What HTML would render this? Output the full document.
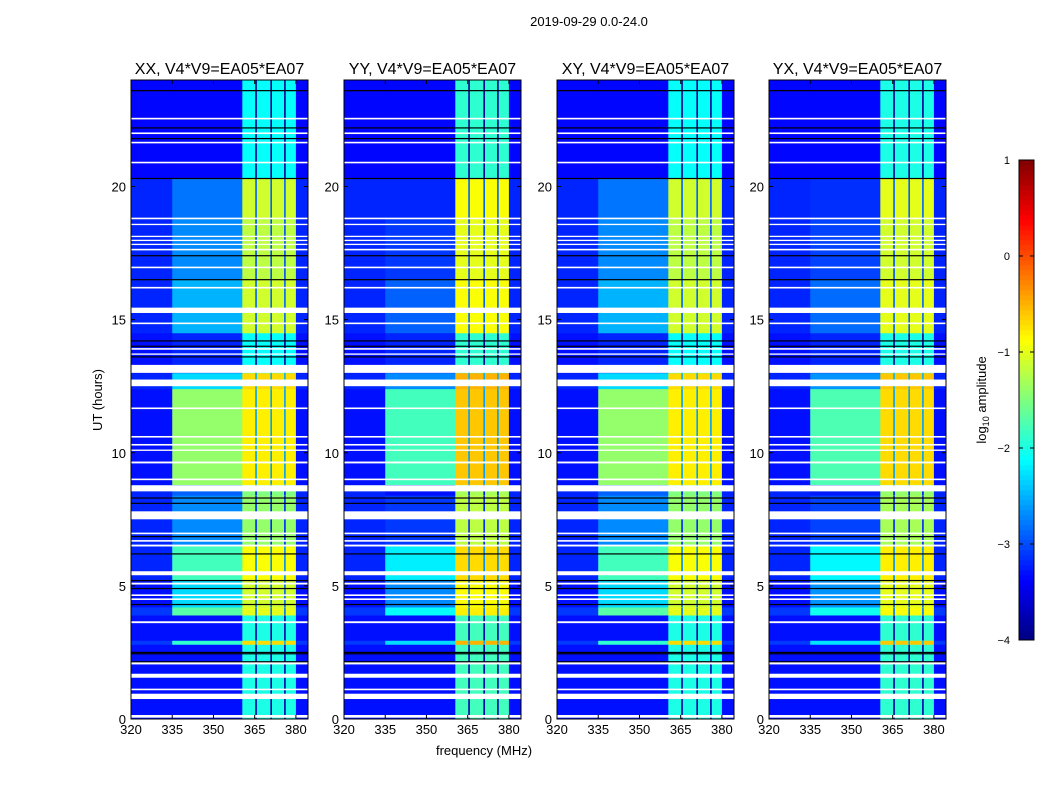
<!DOCTYPE html>
<html><head><meta charset="utf-8"><style>
body{margin:0;background:#fff;font-family:"Liberation Sans",sans-serif}
svg text{font-family:"Liberation Sans",sans-serif}
</style></head><body>
<svg id="fig" width="1050" height="800" xmlns="http://www.w3.org/2000/svg">
<text x="589" y="26" text-anchor="middle" font-size="13">2019-09-29 0.0-24.0</text>
<text transform="translate(102,400) rotate(-90)" text-anchor="middle" font-size="13">UT (hours)</text>
<text x="484" y="755" text-anchor="middle" font-size="13">frequency (MHz)</text>
<g id="panels"></g>
<g id="cbar"></g>
<text transform="translate(986,400) rotate(-90)" text-anchor="middle" font-size="13">log<tspan font-size="9" dy="3">10</tspan><tspan dy="-3"> amplitude</tspan></text>
</svg>
<script>
const panelTitles=["XX, V4*V9=EA05*EA07","YY, V4*V9=EA05*EA07","XY, V4*V9=EA05*EA07","YX, V4*V9=EA05*EA07"];
const panelLefts=[131,344,557,769];
const xTicks=[320,335,350,365,380];
const yTicks=[0,5,10,15,20];
// segments: [t0, t1, background, broadband(335-360), band(360-380)] log10 amplitude
const segT0=[0,2.8,2.95,3.9,4.2,5.2,6.5,8.4,8.8,12.4,13,14.5,16.5,18.8,20.3];
const segT1=[2.8,2.95,3.9,4.2,5.2,6.5,8.4,8.8,12.4,13.0,14.5,16.5,18.8,20.3,24];
const segBg=[-3.3,-3.1,-3.3,-3.1,-3.3,-3.2,-3.2,-3.2,-3.3,-3.2,-3.3,-3.2,-3.2,-3.2,-3.35];
const segBroad=[-3.3,-1.9,-3.3,-1.7,-2.3,-1.8,-2.7,-2.9,-1.4,-2.3,-3.2,-2.5,-2.7,-2.8,-3.35];
const segBand=[-2.0,-0.7,-2.0,-1.0,-1.1,-0.9,-1.4,-1.5,-0.8,-0.7,-2.1,-1.1,-1.2,-1.1,-2.1];
const broadShift=[0,-0.4,0,-0.35];
const bandShift=[0,0.2,0,0.1];
const whiteGaps=[[0.05,0.15],[0.75,0.95],[1.08,1.14],[1.55,1.7],[2.05,2.15],[3.6,3.67],[4.47,4.53],[4.62,4.68],[5.05,5.12],[5.4,5.55],[6.48,6.55],[6.66,6.72],[6.94,7.0],[7.5,7.8],[8.55,8.78],[8.97,9.03],[9.6,9.67],[10.07,10.12],[10.27,10.33],[10.57,10.63],[11.64,11.7],[12.5,12.75],[13.0,13.3],[13.68,13.73],[13.87,13.93],[14.83,14.89],[15.25,15.45],[16.17,16.23],[16.93,16.99],[17.6,17.66],[17.8,17.85],[17.95,18.0],[18.1,18.15],[18.55,18.6],[18.77,18.83],[20.87,20.93],[21.62,21.68],[21.97,22.03],[22.52,22.58]];
const blackLines=[2.15,2.45,2.5,4.3,4.9,5.2,6.2,6.85,8.1,8.3,13.6,14.0,14.2,16.5,17.4,20.3,21.8,22.2,23.6];
const darkFreqs=[365.5,371,376];

const NS="http://www.w3.org/2000/svg";
function jet(v){let x=(v+4)/5;x=Math.max(0,Math.min(1,x));
 const c=t=>Math.round(255*Math.max(0,Math.min(1,1.5-Math.abs(t))));
 return `rgb(${c(4*x-3)},${c(4*x-2)},${c(4*x-1)})`;}
function el(tag,attrs,parent){const e=document.createElementNS(NS,tag);for(const k in attrs)e.setAttribute(k,attrs[k]);parent.appendChild(e);return e;}
const plotTop=80,plotBot=719,plotW=177;
const fx=(L,f)=>L+(f-320)*(plotW/64.4);
const ty=t=>plotBot-(t/24)*(plotBot-plotTop);
const panelRoot=document.getElementById('panels');
panelTitles.forEach((title,p)=>{
 const L=panelLefts[p];
 const g=el('g',{},panelRoot);
 
 
 for(let i=0;i<segT0.length;i++){
  const y1=ty(segT1[i]),y0=ty(segT0[i]);
  const bv=segBroad[i]>-3.0?segBroad[i]+broadShift[p]:segBroad[i];
  const regions=[[320,335,segBg[i]],[335,360.5,bv],[360.5,380,segBand[i]+bandShift[p]],[380,384.4,segBg[i]]];
  regions.forEach(r=>{
   const c=el('rect',{x:fx(L,r[0]),y:y1,width:fx(L,r[1])-fx(L,r[0])+0.3,height:y0-y1+0.3,fill:jet(r[2])},g);
   
   
  });
  darkFreqs.forEach(f=>{
   const d=el('rect',{x:fx(L,f)-0.8,y:y1,width:1.6,height:y0-y1,fill:jet(segBand[i]-1.8)},g);
   
   
  });
 }
 whiteGaps.forEach(w=>{const r=el('rect',{x:L,y:ty(w[1]),width:plotW,height:Math.max(1.2,ty(w[0])-ty(w[1])),fill:'#fff'},g);
  
  });
 blackLines.forEach(b=>{const r=el('rect',{x:L,y:ty(b)-0.6,width:plotW,height:1.2,fill:'#000'},g);
  
  });
 const fr=el('rect',{x:L,y:plotTop,width:plotW,height:plotBot-plotTop,fill:'none',stroke:'#000','stroke-width':1},g);
 
 
 const tt=el('text',{x:L+plotW/2,y:plotTop-6,'text-anchor':'middle','font-size':16},g);tt.textContent=title;
 
 
 xTicks.forEach(v=>{const x=fx(L,v);
  el('line',{x1:x,x2:x,y1:plotBot,y2:plotBot-4,stroke:'#000'},g);el('line',{x1:x,x2:x,y1:plotTop,y2:plotTop+4,stroke:'#000'},g);
  const t=el('text',{x:x,y:plotBot+15,'text-anchor':'middle','font-size':13},g);t.textContent=v;
  
  });
 yTicks.forEach(v=>{const y=ty(v);
  el('line',{x1:L,x2:L+4,y1:y,y2:y,stroke:'#000'},g);el('line',{x1:L+plotW,x2:L+plotW-4,y1:y,y2:y,stroke:'#000'},g);
  const t=el('text',{x:L-5,y:y+5,'text-anchor':'end','font-size':13},g);t.textContent=v;
  
  });
});
// colorbar
const cbTicks=[1,0,-1,-2,-3,-4];
const cb=document.getElementById('cbar');
const cy=v=>640-(v+4)/5*480;
for(let i=0;i<96;i++){const v=-4+i*5/96;
 el('rect',{x:1019,y:cy(v+5/96),width:15,height:5.3,fill:jet(v+2.5/96)},cb);}
el('rect',{x:1019,y:160,width:15,height:480,fill:'none',stroke:'#000'},cb);
cbTicks.forEach(v=>{const y=cy(v);
 el('line',{x1:1019,x2:1023,y1:y,y2:y,stroke:'#000'},cb);el('line',{x1:1034,x2:1030,y1:y,y2:y,stroke:'#000'},cb);
 const t=el('text',{x:1010,y:y+4,'text-anchor':'end','font-size':11},cb);t.textContent=v<0?'\u2212'+(-v):v;
 
 });
</script>
</body></html>
